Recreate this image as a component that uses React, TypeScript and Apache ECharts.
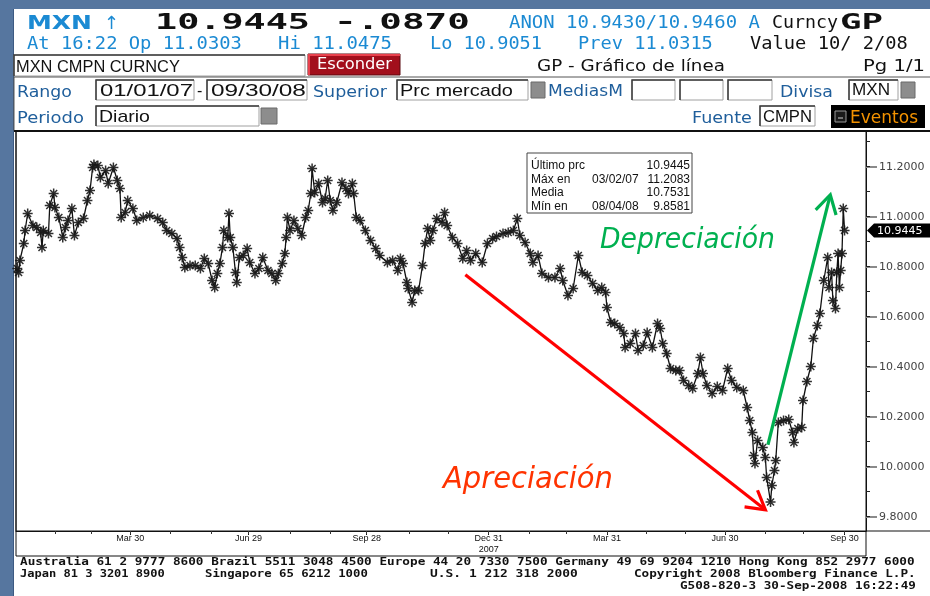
import React, { useEffect, useRef } from 'react';
import * as echarts from 'echarts';

// ---------- data ----------
const dates: string[] = [
  '2007-01-02','2007-01-03','2007-01-04','2007-01-07','2007-01-08','2007-01-10','2007-01-14','2007-01-17','2007-01-20','2007-01-21',
  '2007-01-22','2007-01-26','2007-01-27','2007-01-30','2007-01-31','2007-02-03','2007-02-06','2007-02-08','2007-02-10','2007-02-13',
  '2007-02-15','2007-02-18','2007-02-22','2007-02-25','2007-02-27','2007-03-01','2007-03-02','2007-03-05','2007-03-07','2007-03-11',
  '2007-03-13','2007-03-17','2007-03-20','2007-03-22','2007-03-23','2007-03-26','2007-03-28','2007-04-01','2007-04-04','2007-04-09',
  '2007-04-14','2007-04-20','2007-04-24','2007-04-27','2007-05-01','2007-05-05','2007-05-07','2007-05-09','2007-05-11','2007-05-15',
  '2007-05-19','2007-05-23','2007-05-26','2007-05-29','2007-06-01','2007-06-03','2007-06-05','2007-06-07','2007-06-09','2007-06-10',
  '2007-06-13','2007-06-14','2007-06-15','2007-06-17','2007-06-19','2007-06-20','2007-06-22','2007-06-25','2007-06-28','2007-06-30',
  '2007-07-04','2007-07-07','2007-07-10','2007-07-14','2007-07-17','2007-07-20','2007-07-22','2007-07-25','2007-07-27','2007-07-28',
  '2007-07-29','2007-07-31','2007-08-03','2007-08-06','2007-08-09','2007-08-12','2007-08-14','2007-08-16','2007-08-17','2007-08-19',
  '2007-08-22','2007-08-25','2007-08-27','2007-08-29','2007-08-31','2007-09-02','2007-09-05','2007-09-09','2007-09-12','2007-09-14',
  '2007-09-17','2007-09-18','2007-09-20','2007-09-23','2007-09-27','2007-10-01','2007-10-05','2007-10-08','2007-10-14','2007-10-18',
  '2007-10-22','2007-10-24','2007-10-26','2007-10-29','2007-10-30','2007-11-02','2007-11-04','2007-11-07','2007-11-10','2007-11-12',
  '2007-11-14','2007-11-16','2007-11-18','2007-11-21','2007-11-25','2007-11-27','2007-11-29','2007-12-03','2007-12-07','2007-12-11',
  '2007-12-14','2007-12-17','2007-12-21','2007-12-26','2007-12-30','2008-01-03','2008-01-06','2008-01-11','2008-01-15','2008-01-19',
  '2008-01-22','2008-01-24','2008-01-28','2008-02-01','2008-02-03','2008-02-07','2008-02-10','2008-02-15','2008-02-20','2008-02-24',
  '2008-02-26','2008-03-01','2008-03-05','2008-03-09','2008-03-12','2008-03-16','2008-03-20','2008-03-24','2008-03-27','2008-03-30',
  '2008-03-31','2008-04-03','2008-04-06','2008-04-10','2008-04-13','2008-04-14','2008-04-18','2008-04-22','2008-04-24','2008-04-28',
  '2008-05-01','2008-05-05','2008-05-09','2008-05-11','2008-05-13','2008-05-16','2008-05-19','2008-05-23','2008-05-26','2008-05-29',
  '2008-06-02','2008-06-05','2008-06-09','2008-06-11','2008-06-13','2008-06-16','2008-06-20','2008-06-24','2008-06-28','2008-07-02',
  '2008-07-05','2008-07-09','2008-07-14','2008-07-17','2008-07-19','2008-07-21','2008-07-22','2008-07-23','2008-07-25','2008-07-29',
  '2008-07-31','2008-08-01','2008-08-04','2008-08-05','2008-08-07','2008-08-08','2008-08-10','2008-08-14','2008-08-18','2008-08-21',
  '2008-08-22','2008-08-25','2008-08-28','2008-08-29','2008-09-01','2008-09-04','2008-09-06','2008-09-09','2008-09-11','2008-09-14',
  '2008-09-17','2008-09-18','2008-09-20','2008-09-21','2008-09-23','2008-09-24','2008-09-25','2008-09-26','2008-09-27','2008-09-28',
  '2008-09-29','2008-09-30',
];
const prices: number[] = [
  10.792,10.776,10.824,10.892,10.944,11.012,10.964,10.956,10.936,10.876,
  10.944,10.932,11.044,11.092,11.036,10.996,10.916,10.956,10.984,11.032,
  10.924,10.976,10.992,11.064,11.104,11.196,11.2083,11.204,11.156,11.184,
  11.132,11.196,11.144,11.112,10.996,11.016,11.064,11.032,10.984,10.996,
  11.004,10.992,10.976,10.944,10.932,10.912,10.876,10.836,10.796,10.804,
  10.804,10.792,10.832,10.812,10.744,10.716,10.772,10.812,10.876,10.944,
  10.916,11.012,10.916,10.876,10.776,10.736,10.836,10.844,10.872,10.816,
  10.772,10.792,10.836,10.784,10.772,10.744,10.772,10.812,10.852,10.916,
  10.996,10.944,10.984,10.952,10.924,10.996,11.024,11.092,11.192,11.096,
  11.132,11.056,11.072,11.144,11.064,11.024,11.056,11.136,11.112,11.092,
  11.132,11.092,10.996,10.984,10.944,10.904,10.872,10.844,10.816,10.824,
  10.784,10.832,10.812,10.736,10.712,10.656,10.704,10.704,10.804,10.892,
  10.952,10.904,10.944,10.992,10.976,11.016,10.964,10.916,10.892,10.832,
  10.864,10.824,10.852,10.816,10.892,10.912,10.92,10.932,10.936,10.944,
  10.992,10.924,10.896,10.852,10.816,10.844,10.772,10.756,10.756,10.792,
  10.744,10.684,10.712,10.844,10.776,10.764,10.732,10.704,10.716,10.696,
  10.636,10.576,10.572,10.556,10.532,10.476,10.492,10.532,10.464,10.484,
  10.536,10.476,10.572,10.552,10.492,10.452,10.392,10.384,10.384,10.344,
  10.324,10.312,10.372,10.436,10.372,10.324,10.292,10.32,10.304,10.392,
  10.344,10.316,10.304,10.236,10.184,10.136,10.044,10.012,10.104,10.076,
  10.036,9.956,9.8581,9.924,9.984,10.024,10.176,10.184,10.188,10.136,
  10.096,10.152,10.156,10.264,10.34,10.4,10.512,10.564,10.612,10.744,
  10.836,10.716,10.776,10.664,10.632,10.776,10.852,10.716,10.784,10.852,
  11.032,10.9445,
];
const quarterTicks = ['2007-03-30','2007-06-29','2007-09-28','2007-12-31','2008-03-31','2008-06-30','2008-09-30'];
const quarterLabels = ['Mar 30','Jun 29','Sep 28','Dec 31\n2007','Mar 31','Jun 30','Sep 30'];
const monthTicks = [
  '2007-01-31','2007-02-28','2007-03-30','2007-04-30','2007-05-31','2007-06-29','2007-07-31','2007-08-31','2007-09-28','2007-10-31',
  '2007-11-30','2007-12-31','2008-01-31','2008-02-29','2008-03-31','2008-04-30','2008-05-30','2008-06-30','2008-07-31','2008-08-29','2008-09-30',
];
const yMajorTicks = [9.8, 10.0, 10.2, 10.4, 10.6, 10.8, 11.0, 11.2];
const yMinorTicks = [9.8, 9.9, 10.0, 10.1, 10.2, 10.3, 10.4, 10.5, 10.6, 10.7, 10.8, 10.9, 11.0, 11.1, 11.2, 11.3];
const statLabels = ['Último prc', 'Máx en', 'Media', 'Mín en'];
const statDates = ['', '03/02/07', '', '08/04/08'];
const statValues = ['10.9445', '11.2083', '10.7531', '9.8581'];
const lastPrice = 10.9445;
// annotation arrows in data space
const redArrow: [string, number][] = [['2007-12-13', 10.767], ['2008-07-31', 9.827]];
const greenArrow: [string, number][] = [['2008-08-02', 10.087], ['2008-09-19', 11.087]];

// ---------- helpers ----------
const ts = (s: string) => {
  const [y, m, d] = s.split('-').map(Number);
  return Date.UTC(y, m - 1, d);
};
const MONO = "'DejaVu Sans Mono', monospace";
const SANS = "'DejaVu Sans', sans-serif";
const ARIAL = "'Liberation Sans', Arial, sans-serif";
const BLUE = '#1b8ad3';
const DBLUE = '#1f5e9b';

let ctx: CanvasRenderingContext2D | null = null;
function measure(text: string, font: string) {
  if (!ctx) ctx = document.createElement('canvas').getContext('2d');
  ctx!.font = font;
  return ctx!.measureText(text).width || 1;
}
function fit(text: string, x0: number, x1: number, y: number, size: number, family: string, color: string, weight = 'normal', fstyle = 'normal') {
  const w = measure(text, `${fstyle} ${weight} ${size}px ${family}`);
  return {
    type: 'text', x: x0, y, scaleX: (x1 - x0) / w, silent: true, z: 10,
    style: { text, x: 0, y: 0, fill: color, fontSize: size, fontFamily: family, fontWeight: weight, fontStyle: fstyle, align: 'left', verticalAlign: 'middle' },
  };
}
function txt(text: string, x: number, y: number, size: number, family: string, color: string, align = 'left', weight = 'normal', fstyle = 'normal') {
  return {
    type: 'text', x, y, silent: true, z: 10,
    style: { text, x: 0, y: 0, fill: color, fontSize: size, fontFamily: family, fontWeight: weight, fontStyle: fstyle, align, verticalAlign: 'middle' },
  };
}
function line(x1: number, y1: number, x2: number, y2: number, color: string, w = 1, z = 10) {
  return { type: 'line', silent: true, z, shape: { x1, y1, x2, y2 }, style: { stroke: color, lineWidth: w } };
}
function rect(x0: number, y0: number, x1: number, y1: number, fill: string | null, stroke: string | null = null, w = 1, z = 8) {
  const style: any = { lineWidth: w };
  style.fill = fill ? fill : 'transparent';
  if (stroke) style.stroke = stroke;
  return { type: 'rect', silent: true, z, shape: { x: x0, y: y0, width: x1 - x0, height: y1 - y0 }, style };
}
function box(x0: number, y0: number, x1: number, y1: number) {
  return [
    rect(x0, y0, x1, y1, '#ffffff', '#a0a0a0', 1, 8),
    { type: 'polyline', silent: true, z: 9, shape: { points: [[x0, y1], [x0, y0], [x1, y0]] }, style: { stroke: '#3a3a3a', lineWidth: 1.5, fill: 'transparent' } },
  ];
}
function greySq(x0: number, y0: number, x1: number, y1: number) {
  return rect(x0, y0, x1, y1, '#8d8d8d', '#6a6a6a', 1, 9);
}
function arrow(p0: number[], p1: number[], color: string) {
  const dx = p1[0] - p0[0], dy = p1[1] - p0[1];
  const L = Math.hypot(dx, dy);
  const ux = dx / L, uy = dy / L;
  const a = Math.PI / 6, len = 21;
  const r = (ang: number) => [p1[0] - len * (ux * Math.cos(ang) - uy * Math.sin(ang)), p1[1] - len * (ux * Math.sin(ang) + uy * Math.cos(ang))];
  return [
    { type: 'line', silent: true, z: 50, shape: { x1: p0[0], y1: p0[1], x2: p1[0] - ux * 1.5, y2: p1[1] - uy * 1.5 }, style: { stroke: color, lineWidth: 3.2 } },
    { type: 'polyline', silent: true, z: 50, shape: { points: [r(a), p1, r(-a)] }, style: { stroke: color, lineWidth: 3.2, fill: 'transparent' } },
  ];
}

const ASTERISK =
  'path://M-5,-0.75L5,-0.75L5,0.75L-5,0.75Z M-0.75,-5L0.75,-5L0.75,5L-0.75,5Z ' +
  'M-2.97,-4.03L4.03,2.97L2.97,4.03L-4.03,-2.97Z M-2.97,4.03L-4.03,2.97L2.97,-4.03L4.03,-2.97Z';

export default function App() {
  const ref = useRef<HTMLDivElement>(null);
  useEffect(() => {
    document.body.style.margin = '0';
    const chart = echarts.init(ref.current!, null, { renderer: 'svg', width: 930, height: 596 });
    const xMin = ts('2007-01-01');
    const xMax = ts('2008-10-16') + 12 * 3600 * 1000;
    const qTs = quarterTicks.map(ts);
    chart.setOption({
      animation: false,
      textStyle: { fontFamily: ARIAL },
      grid: { left: 16, top: 131, width: 850, height: 400, show: true, borderColor: '#111', borderWidth: 1, backgroundColor: 'transparent', containLabel: false, outerBoundsMode: 'none' },
      xAxis: [
        {
          type: 'value', min: xMin, max: xMax, position: 'bottom', scale: true,
          axisLine: { show: true, lineStyle: { color: '#111', width: 1 } },
          splitLine: { show: false },
          axisTick: { show: true, customValues: qTs, length: 4, lineStyle: { color: '#111' } },
          axisLabel: {
            show: true, customValues: qTs, fontSize: 9, color: '#111', fontFamily: ARIAL, margin: 1, lineHeight: 11,
            hideOverlap: false, showMinLabel: true, showMaxLabel: true,
            formatter: (v: number) => {
              const i = qTs.findIndex((q) => Math.abs(q - v) < 43200000);
              return i >= 0 ? quarterLabels[i] : '';
            },
          },
        },
        {
          type: 'value', min: xMin, max: xMax, position: 'bottom', gridIndex: 0, scale: true,
          axisLine: { show: false }, splitLine: { show: false }, axisLabel: { show: false, customValues: monthTicks.map(ts) },
          axisTick: { show: true, customValues: monthTicks.map(ts), length: 3, lineStyle: { color: '#333' } },
        },
      ],
      yAxis: [
        {
          type: 'value', position: 'right', min: 9.742, max: 11.342, scale: true,
          axisLine: { show: true, lineStyle: { color: '#111' } },
          splitLine: { show: false },
          axisTick: { show: true, customValues: yMajorTicks, length: 11, lineStyle: { color: '#8a8a8a', width: 2 } },
          axisLabel: { show: true, customValues: yMajorTicks, margin: 13, fontSize: 11, color: '#444', fontFamily: SANS, formatter: (v: number) => v.toFixed(4) },
        },
        {
          type: 'value', position: 'right', min: 9.742, max: 11.342, scale: true,
          axisLine: { show: false }, splitLine: { show: false }, axisLabel: { show: false, customValues: yMinorTicks },
          axisTick: { show: true, customValues: yMinorTicks, length: 4, lineStyle: { color: '#222', width: 1 } },
        },
      ],
      series: [
        {
          type: 'line', xAxisIndex: 0, yAxisIndex: 0, silent: true,
          data: dates.map((d, i) => [ts(d), prices[i]]),
          symbol: ASTERISK, symbolSize: 10, showSymbol: true, showAllSymbol: true,
          lineStyle: { color: '#111', width: 1.3 },
          itemStyle: { color: '#1a1a1a', opacity: 0.9 },
          emphasis: { disabled: true },
          z: 3,
        },
      ],
    });

    const px = (d: string, v: number) => chart.convertToPixel({ seriesIndex: 0 }, [ts(d), v]) as number[];
    const tagY = px(dates[dates.length - 1], lastPrice)[1];

    const g: any[] = [];
    // frame / background
    g.push(rect(0, 0, 930, 596, '#56769f', null, 0, -20));
    g.push(rect(14, 9, 930, 596, '#ffffff', null, 0, -19));
    g.push(line(13.5, 9, 13.5, 596, '#3d5a82', 1, -18));
    // line 1
    g.push(fit('MXN', 27, 92, 21.5, 20, SANS, BLUE, 'bold'));
    g.push(txt('↑', 104, 22, 18, SANS, BLUE));
    g.push(fit('10.9445', 155, 310, 21.5, 22, MONO, '#111', 'bold'));
    g.push(fit('-.0870', 334, 470, 21.5, 22, MONO, '#111', 'bold'));
    g.push(fit('ANON 10.9430/10.9460 A', 509, 760, 21.5, 18, MONO, BLUE));
    g.push(fit('Curncy', 772, 838, 21.5, 18, MONO, '#111'));
    g.push(fit('GP', 840, 883, 21.5, 22, MONO, '#111', 'bold'));
    // line 2
    g.push(fit('At 16:22 Op 11.0303', 27, 242, 43, 18, MONO, BLUE));
    g.push(fit('Hi 11.0475', 278, 392, 43, 18, MONO, BLUE));
    g.push(fit('Lo 10.9051', 430, 542, 43, 18, MONO, BLUE));
    g.push(fit('Prev 11.0315', 578, 713, 43, 18, MONO, BLUE));
    g.push(fit('Value 10/ 2/08', 750, 908, 43, 18, MONO, '#111'));
    // line 3
    g.push(...box(14, 55, 305, 76));
    g.push(fit('MXN CMPN CURNCY', 16, 180, 66, 16, ARIAL, '#111'));
    g.push(rect(308, 54, 400, 75, '#a20f1c', '#5a0a10', 1, 9));
    g.push({ type: 'polyline', silent: true, z: 9, shape: { points: [[309, 75], [309, 55], [400, 55]] }, style: { stroke: '#e8414d', lineWidth: 2, fill: 'transparent' } });
    g.push(fit('Esconder', 317, 392, 64, 15, SANS, '#ffffff'));
    g.push(fit('GP - Gráfico de línea', 537, 725, 65, 16, SANS, '#111'));
    g.push(fit('Pg 1/1', 863, 925, 65, 16, SANS, '#111'));
    // rows frame
    g.push(line(14, 77, 930, 77, '#555', 1));
    // line 4
    g.push(fit('Rango', 17, 72, 91, 16, SANS, DBLUE));
    g.push(...box(96, 80, 194, 100));
    g.push(fit('01/01/07', 100, 193, 90, 17, ARIAL, '#111'));
    g.push(txt('-', 197, 90, 16, ARIAL, '#111'));
    g.push(...box(207, 80, 307, 100));
    g.push(fit('09/30/08', 211, 306, 90, 17, ARIAL, '#111'));
    g.push(fit('Superior', 313, 387, 91, 16, SANS, DBLUE));
    g.push(...box(397, 80, 528, 100));
    g.push(fit('Prc mercado', 400, 513, 90, 17, ARIAL, '#111'));
    g.push(greySq(531, 82, 545, 98));
    g.push(fit('MediasM', 548, 623, 91, 16, SANS, DBLUE));
    g.push(...box(632, 80, 675, 100));
    g.push(...box(680, 80, 723, 100));
    g.push(...box(728, 80, 772, 100));
    g.push(fit('Divisa', 780, 833, 91, 16, SANS, DBLUE));
    g.push(...box(849, 80, 898, 100));
    g.push(fit('MXN', 852, 890, 90, 17, ARIAL, '#111'));
    g.push(greySq(901, 82, 915, 98));
    // line 5
    g.push(fit('Periodo', 17, 84, 117, 16, SANS, DBLUE));
    g.push(...box(96, 106, 259, 126));
    g.push(fit('Diario', 99, 150, 116, 17, ARIAL, '#111'));
    g.push(greySq(261, 108, 277, 124));
    g.push(fit('Fuente', 692, 752, 117, 16, SANS, DBLUE));
    g.push(...box(760, 106, 815, 126));
    g.push(fit('CMPN', 763, 812, 116, 17, ARIAL, '#111'));
    g.push(rect(831, 105, 925, 128, '#000000', null, 0, 9));
    g.push(rect(835, 111, 846, 122, '#1a1a1a', '#9a9a9a', 1, 10));
    g.push(line(838, 118, 843, 118, '#cfcfcf', 1, 11));
    g.push(fit('Eventos', 850, 918, 117, 17, SANS, '#f39200'));
    // chart frame
    g.push(line(14, 77, 14, 131, '#555', 1));
    g.push(line(14, 131, 930, 131, '#111', 2));
    g.push(line(866, 531, 930, 531, '#111', 1));
    g.push({ type: 'polyline', silent: true, z: 10, shape: { points: [[16, 131], [16, 556], [866, 556], [866, 531]] }, style: { stroke: '#111', lineWidth: 1, fill: 'transparent' } });
    // stats box
    g.push(rect(527, 153, 692, 213, '#ffffff', '#444', 1, 20));
    statLabels.forEach((s, i) => {
      const y = 165 + i * 13.7;
      g.push({ ...txt(s, 531, y, 12, ARIAL, '#111'), z: 21 });
      if (statDates[i]) g.push({ ...txt(statDates[i], 592, y, 12, ARIAL, '#111'), z: 21 });
      g.push({ ...txt(statValues[i], 690, y, 12, ARIAL, '#111', 'right'), z: 21 });
    });
    // last price tag
    g.push({ type: 'polygon', silent: true, z: 30, shape: { points: [[867, tagY], [874, tagY - 7], [930, tagY - 7], [930, tagY + 7], [874, tagY + 7]] }, style: { fill: '#000' } });
    g.push({ ...txt(lastPrice.toFixed(4), 877, tagY, 11, SANS, '#ffffff'), z: 31 });
    // annotations
    g.push(...arrow(px(redArrow[0][0], redArrow[0][1]), px(redArrow[1][0], redArrow[1][1]), '#ff0000'));
    g.push(...arrow(px(greenArrow[0][0], greenArrow[0][1]), px(greenArrow[1][0], greenArrow[1][1]), '#00b050'));
    g.push({ ...fit('Apreciación', 443, 613, 477, 31, SANS, '#ff3300', 'normal', 'italic'), z: 40 });
    g.push({ ...fit('Depreciación', 600, 775, 238, 29, SANS, '#00b050', 'normal', 'italic'), z: 40 });
    // footer
    const FB = 'bold';
    g.push(fit('Australia 61 2 9777 8600 Brazil 5511 3048 4500 Europe 44 20 7330 7500 Germany 49 69 9204 1210 Hong Kong 852 2977 6000', 20, 916, 561, 11, MONO, '#111', FB));
    g.push(fit('Japan 81 3 3201 8900', 20, 165, 573, 11, MONO, '#111', FB));
    g.push(fit('Singapore 65 6212 1000', 205, 368, 573, 11, MONO, '#111', FB));
    g.push(fit('U.S. 1 212 318 2000', 430, 578, 573, 11, MONO, '#111', FB));
    g.push(fit('Copyright 2008 Bloomberg Finance L.P.', 634, 916, 573, 11, MONO, '#111', FB));
    g.push(fit('G508-820-3 30-Sep-2008 16:22:49', 680, 916, 585, 11, MONO, '#111', FB));

    chart.setOption({ graphic: { elements: g } });
    return () => chart.dispose();
  }, []);
  return <div ref={ref} style={{ position: 'fixed', left: 0, top: 0, width: 930, height: 596 }} />;
}
